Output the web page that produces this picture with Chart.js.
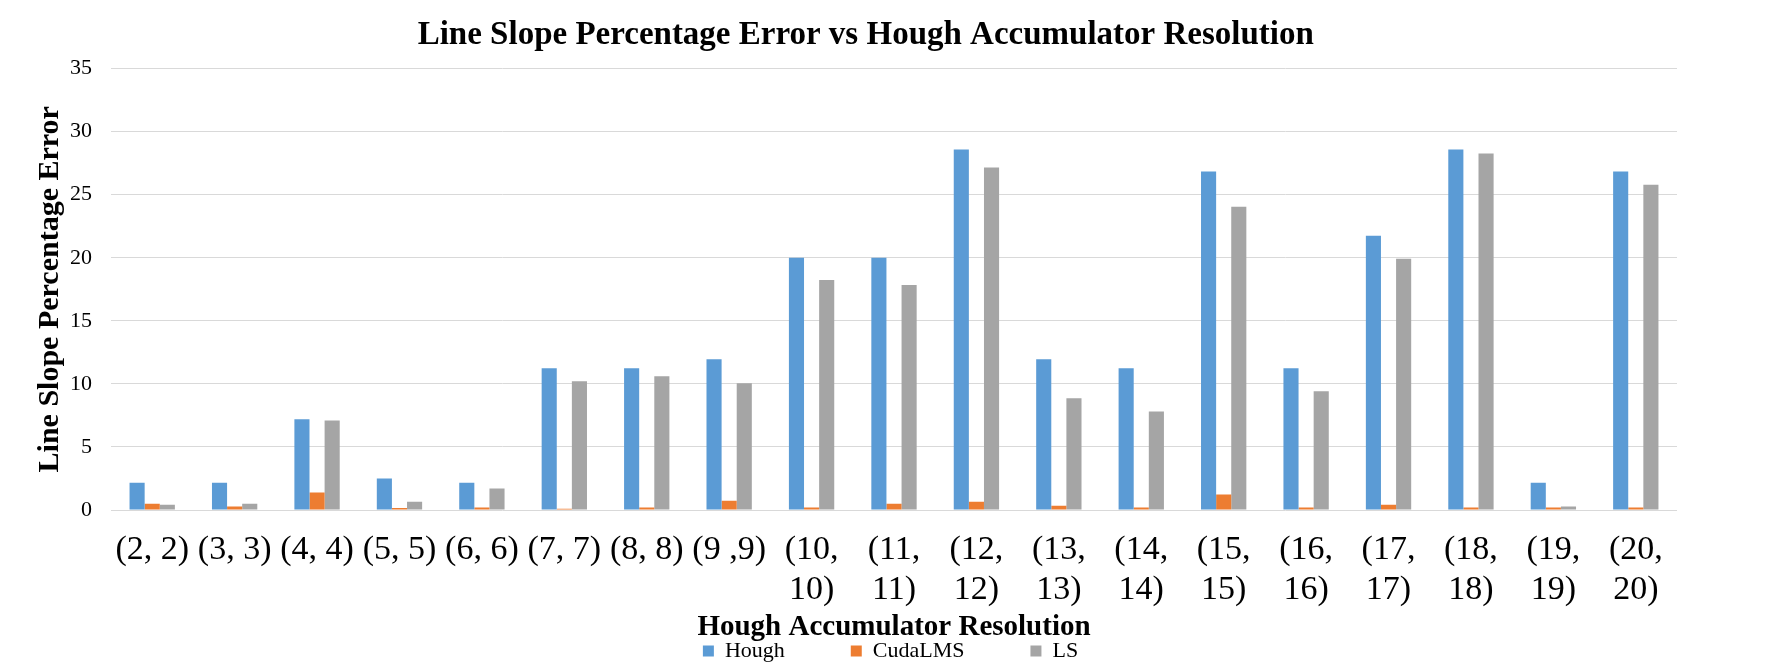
<!DOCTYPE html>
<html>
<head>
<meta charset="utf-8">
<script src="https://cdn.jsdelivr.net/npm/chart.js@4.4.1/dist/chart.umd.min.js"></script>
<style>
  body { margin: 0; background: #fff; }
  #wrap { width: 1781px; height: 664px; }
</style>
</head>
<body>
<div id="wrap"><canvas id="slopeChart"></canvas></div>
<script>
const labels = [
  '(2, 2)', '(3, 3)', '(4, 4)', '(5, 5)', '(6, 6)', '(7, 7)', '(8, 8)', '(9 ,9)',
  ['(10,', '10)'], ['(11,', '11)'], ['(12,', '12)'], ['(13,', '13)'], ['(14,', '14)'],
  ['(15,', '15)'], ['(16,', '16)'], ['(17,', '17)'], ['(18,', '18)'], ['(19,', '19)'],
  ['(20,', '20)']
];
const hough = [2.17, 2.17, 7.19, 2.49, 2.17, 11.24, 11.24, 11.96, 20.0, 20.0, 28.59, 11.96, 11.24, 26.84, 11.24, 21.75, 28.59, 2.17, 26.84];
const cudaLMS = [0.5, 0.27, 1.38, 0.16, 0.19, 0.1, 0.19, 0.74, 0.19, 0.5, 0.66, 0.34, 0.19, 1.22, 0.19, 0.42, 0.19, 0.19, 0.19];
const ls = [0.42, 0.5, 7.1, 0.66, 1.7, 10.2, 10.6, 10.05, 18.24, 17.85, 27.15, 8.86, 7.82, 24.05, 9.41, 19.92, 28.27, 0.27, 25.8];
const yTicks = [0, 5, 10, 15, 20, 25, 30, 35];

const serif = "'Liberation Serif', 'Times New Roman', serif";
// en spaces after the first two legend entries, to space them like the original
const legendGap = '\u2002'.repeat(6);

new Chart(document.getElementById('slopeChart'), {
  type: 'bar',
  data: {
    labels: labels,
    datasets: [
      { label: 'Hough', data: hough, backgroundColor: '#5B9BD5' },
      { label: 'CudaLMS', data: cudaLMS, backgroundColor: '#ED7D31' },
      { label: 'LS', data: ls, backgroundColor: '#A5A5A5' }
    ]
  },
  options: {
    responsive: true,
    maintainAspectRatio: false,
    animation: false,
    layout: { padding: { top: 0, left: 0, right: 0, bottom: -8 } },
    datasets: {
      bar: { categoryPercentage: 0.55, barPercentage: 1.0 }
    },
    plugins: {
      title: {
        display: true,
        // trailing en spaces nudge the centred title a little to the left
        text: 'Line Slope Percentage Error vs Hough Accumulator Resolution\u2002\u2002\u2002',
        color: '#000',
        font: { family: serif, size: 33, weight: 'bold' },
        padding: { top: 16, bottom: 13 }
      },
      legend: {
        position: 'bottom',
        labels: {
          color: '#000',
          font: { family: serif, size: 22 },
          boxWidth: 11,
          boxHeight: 11,
          padding: 0,
          generateLabels: function (chart) {
            const items = Chart.defaults.plugins.legend.labels.generateLabels(chart);
            items.forEach(function (it, i) {
              if (i < items.length - 1) it.text += legendGap;
            });
            return items;
          }
        }
      },
      tooltip: { enabled: false }
    },
    scales: {
      x: {
        grid: { display: false, drawTicks: false },
        border: { display: false },
        ticks: {
          color: '#000',
          font: { family: serif, size: 34, lineHeight: 1.15 },
          maxRotation: 0,
          autoSkip: false,
          padding: 21
        },
        title: {
          display: true,
          text: 'Hough Accumulator Resolution',
          color: '#000',
          font: { family: serif, size: 29, weight: 'bold' },
          padding: { top: -20, bottom: -5 }
        }
      },
      y: {
        min: 0,
        max: 35,
        afterBuildTicks: function (scale) {
          scale.ticks = yTicks.map(function (v) { return { value: v }; });
        },
        afterFit: function (scale) { scale.width = 111; },
        grid: { color: '#D9D9D9', lineWidth: 1, drawTicks: false },
        border: { display: false },
        ticks: {
          color: '#000',
          font: { family: serif, size: 22 },
          padding: 19
        },
        title: {
          display: true,
          text: 'Line Slope Percentage Error',
          color: '#000',
          font: { family: serif, size: 30, weight: 'bold' },
          padding: { top: 32, bottom: 0 }
        }
      },
      // empty right-hand axis that only reserves the white margin on the right
      yRight: {
        position: 'right',
        min: 0,
        max: 35,
        afterFit: function (scale) { scale.width = 104; },
        grid: { display: false, drawTicks: false },
        border: { display: false },
        ticks: { display: false }
      }
    }
  }
});
</script>
</body>
</html>
